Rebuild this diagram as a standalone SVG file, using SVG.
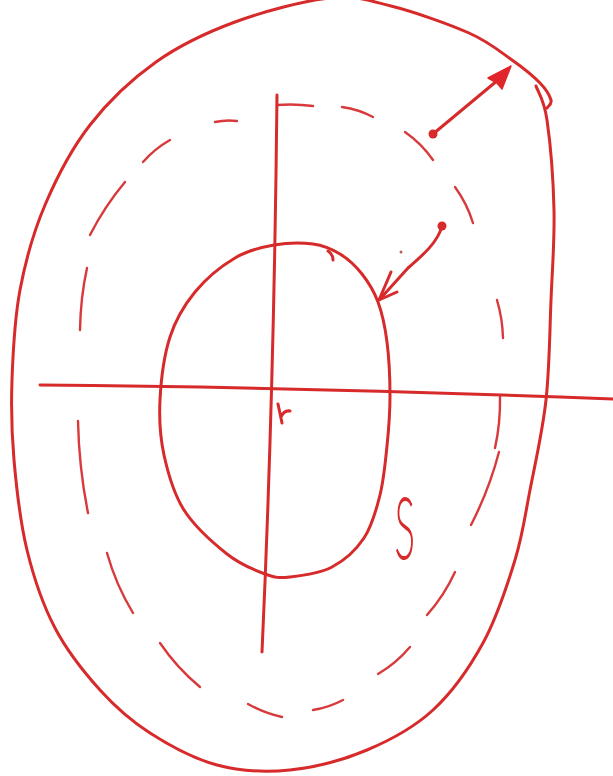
<svg xmlns="http://www.w3.org/2000/svg" width="613" height="776" viewBox="0 0 613 776">
<style>
.ink{fill:none;stroke:#d72a2b;stroke-width:3;stroke-linecap:round;stroke-linejoin:round}
.dash{fill:none;stroke:#d83a3c;stroke-width:2.4;stroke-linecap:round}
.lbl{font-family:"Lato","Roboto","Liberation Sans",sans-serif;font-weight:100;fill:#d72a2b;stroke:#d72a2b;stroke-width:2.4;vector-effect:non-scaling-stroke}
</style>
<rect width="613" height="776" fill="#ffffff"/>
<g id="outer-boundary">
<path class="ink" d="M536,86 C537.8,91.7 544,99.3 547,120 C550,140.7 553.3,180 554,210 C554.7,240 552.3,268.3 551,300 C549.7,331.7 549.5,368.3 546,400 C542.5,431.7 535.2,463.3 530,490 C524.8,516.7 522.8,534.5 515,560 C507.2,585.5 496.7,618 483,643 C469.3,668 452.3,692.2 433,710 C413.7,727.8 390.8,740 367,750 C343.2,760 315,767.5 290,770 C265,772.5 240.3,771.2 217,765 C193.7,758.8 169.5,745.5 150,733 C130.5,720.5 115.8,707.5 100,690 C84.2,672.5 67.2,651.3 55,628 C42.8,604.7 33.8,578 27,550 C20.2,522 16.5,488.3 14,460 C11.5,431.7 11,408.3 12,380 C13,351.7 14.5,319.2 20,290 C25.5,260.8 33.3,232.5 45,205 C56.7,177.5 71.5,148.8 90,125 C108.5,101.2 131.8,79.2 156,62 C180.2,44.8 206,32.7 235,22 C264,11.3 304,0.7 330,-2 C356,-4.7 367.8,0.2 391,6 C414.2,11.8 448.8,24 469,33 C489.2,42 500.2,51.7 512,60 C523.8,68.3 533.5,76.3 540,83 C546.5,89.7 549.8,95.8 551,100 C552.2,104.2 547.7,106.7 547,108"/>
</g>
<g id="dashed-surface">
<path class="dash" d="M215,122 Q226,119.5 237,121"/>
<path class="dash" d="M277,105 Q295,103.5 313,106"/>
<path class="dash" d="M342,107 Q359,109.5 373,117"/>
<path class="dash" d="M405,132 Q421.5,143.5 433,160"/>
<path class="dash" d="M455,187 Q467,203.5 473,223"/>
<path class="dash" d="M497,300 Q502.5,318.5 503,338"/>
<path class="dash" d="M500,397 Q500.5,423 495,448"/>
<path class="dash" d="M499,452 Q489,490 471,525"/>
<path class="dash" d="M455,572 Q444,596 427,615"/>
<path class="dash" d="M410,647 Q396,663.5 378,674"/>
<path class="dash" d="M343,700 Q329,707.5 313,710"/>
<path class="dash" d="M282,717 Q264,713 248,704"/>
<path class="dash" d="M200,687 Q177,668 160,643"/>
<path class="dash" d="M133,613 Q116,585 107,553"/>
<path class="dash" d="M88,513 Q79,468 78,421"/>
<path class="dash" d="M80,330 Q80.5,298 87,268"/>
<path class="dash" d="M90,235 Q104.5,206.5 125,182"/>
<path class="dash" d="M143,162 Q155,148.5 170,140"/>
</g>
<g id="inner-surface">
<path class="ink" d="M274,245 C287,242.7 302,242.5 313,244 C324,245.5 331.8,249 340,254 C348.2,259 355.7,266 362,274 C368.3,282 373.8,290.7 378,302 C382.2,313.3 385,326.3 387,342 C389,357.7 390,378.7 390,396 C390,413.3 388.7,429.5 387,446 C385.3,462.5 383.8,479.7 380,495 C376.2,510.3 372,526 364,538 C356,550 344.3,560.5 332,567 C319.7,573.5 301.2,575.8 290,577 C278.8,578.2 275.5,577.8 265,574 C254.5,570.2 240.5,564.7 227,554 C213.5,543.3 194.5,526.5 184,510 C173.5,493.5 168,473.3 164,455 C160,436.7 159,419.7 160,400 C161,380.3 164.2,355 170,337 C175.8,319 184.2,305.2 195,292 C205.8,278.8 221.8,265.8 235,258 C248.2,250.2 261,247.3 274,245 Z"/>
<path class="ink" stroke-width="2.4" d="M328,251 Q333,254 333,260"/>
</g>
<g id="axes">
<path class="ink" d="M40,385 Q300,387 613,399"/>
<path class="ink" d="M277,95 Q274,390 262,652"/>
</g>
<g id="center-mark">
<path class="ink" stroke-width="3" d="M278,404 L282,423 M281,417 Q284,410 290,411"/>
</g>
<g id="connectors">
<circle cx="433" cy="134" r="4.5" fill="#d72a2b"/>
<path class="ink" d="M433,134 L498,80"/>
<polygon points="511,66 502,89 497,83 488,78" fill="#e0262a" stroke="#e0262a" stroke-width="1.5" stroke-linejoin="round"/>
<circle cx="442" cy="226" r="4.5" fill="#d72a2b"/>
<path class="ink" d="M442,226 C438,242 423,255 408,268 L380,299"/>
<path class="ink" stroke-width="3.4" d="M391,272 L379,300 L397,292"/>
<circle cx="401" cy="252" r="1.5" fill="#b06060"/>
</g>
<g id="label-S">
<text class="lbl" x="0" y="0" font-size="84" transform="translate(395,558) scale(0.44,1)">S</text>
</g>
</svg>
